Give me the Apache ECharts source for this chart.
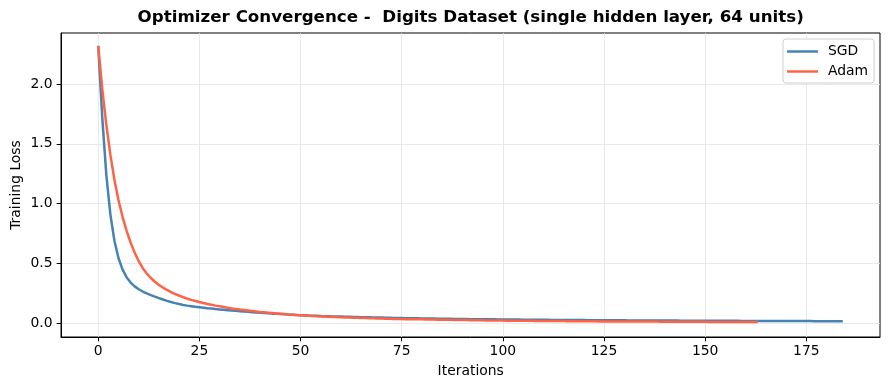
<!DOCTYPE html>
<html>
<head>
<meta charset="utf-8">
<script src="https://cdn.jsdelivr.net/npm/echarts@6/dist/echarts.min.js"></script>
<style>
html,body{margin:0;padding:0;background:#fff;}
#chart{width:889px;height:390px;}
</style>
</head>
<body>
<div id="chart"></div>
<script>
const seriesNames = ['SGD', 'Adam'];
const xTicks = [0, 25, 50, 75, 100, 125, 150, 175];
const yTicks = [0, 0.5, 1.0, 1.5, 2.0];

const sgdLoss = [
  2.32, 1.72, 1.24, 0.91, 0.69, 0.545, 0.450, 0.385, 0.340, 0.308,
  0.284, 0.265, 0.249, 0.235, 0.222, 0.210, 0.198, 0.187, 0.177, 0.168,
  0.160, 0.153, 0.147, 0.142, 0.137, 0.133, 0.129, 0.125, 0.122, 0.118,
  0.115, 0.112, 0.109, 0.106, 0.103, 0.100, 0.097, 0.095, 0.092, 0.090,
  0.087, 0.085, 0.083, 0.080, 0.078, 0.076, 0.074, 0.072, 0.071, 0.069,
  0.067, 0.066, 0.064, 0.063, 0.062, 0.060, 0.059, 0.058, 0.057, 0.056,
  0.055, 0.054, 0.053, 0.052, 0.051, 0.050, 0.050, 0.049, 0.048, 0.047,
  0.047, 0.046, 0.045, 0.044, 0.044, 0.043, 0.042, 0.042, 0.041, 0.041,
  0.040, 0.040, 0.039, 0.039, 0.038, 0.038, 0.037, 0.037, 0.036, 0.036,
  0.035, 0.035, 0.034, 0.034, 0.033, 0.033, 0.033, 0.032, 0.032, 0.031,
  0.031, 0.031, 0.030, 0.030, 0.030, 0.029, 0.029, 0.029, 0.029, 0.028,
  0.028, 0.028, 0.027, 0.027, 0.027, 0.027, 0.026, 0.026, 0.026, 0.026,
  0.026, 0.025, 0.025, 0.025, 0.025, 0.025, 0.024, 0.024, 0.024, 0.024,
  0.024, 0.023, 0.023, 0.023, 0.023, 0.023, 0.023, 0.022, 0.022, 0.022,
  0.022, 0.022, 0.022, 0.022, 0.021, 0.021, 0.021, 0.021, 0.021, 0.021,
  0.021, 0.020, 0.020, 0.020, 0.020, 0.020, 0.020, 0.020, 0.020, 0.019,
  0.019, 0.019, 0.019, 0.019, 0.019, 0.019, 0.019, 0.019, 0.018, 0.018,
  0.018, 0.018, 0.018, 0.018, 0.018, 0.018, 0.018, 0.017, 0.017, 0.017,
  0.017, 0.017, 0.017, 0.017, 0.017
];

const adamLoss = [
  2.32, 1.96, 1.66, 1.41, 1.20, 1.03, 0.890, 0.775, 0.675, 0.590,
  0.520, 0.460, 0.415, 0.378, 0.347, 0.320, 0.298, 0.278, 0.260, 0.244,
  0.230, 0.217, 0.205, 0.195, 0.186, 0.177, 0.169, 0.161, 0.154, 0.147,
  0.141, 0.135, 0.129, 0.124, 0.119, 0.114, 0.110, 0.106, 0.102, 0.098,
  0.094, 0.091, 0.088, 0.085, 0.082, 0.079, 0.076, 0.073, 0.071, 0.068,
  0.066, 0.064, 0.062, 0.060, 0.058, 0.057, 0.055, 0.054, 0.052, 0.051,
  0.049, 0.048, 0.047, 0.046, 0.045, 0.044, 0.043, 0.042, 0.041, 0.040,
  0.039, 0.038, 0.037, 0.036, 0.036, 0.035, 0.034, 0.034, 0.033, 0.032,
  0.032, 0.031, 0.030, 0.030, 0.029, 0.029, 0.028, 0.028, 0.027, 0.027,
  0.026, 0.026, 0.025, 0.025, 0.024, 0.024, 0.023, 0.023, 0.023, 0.022,
  0.022, 0.021, 0.021, 0.021, 0.020, 0.020, 0.020, 0.020, 0.019, 0.019,
  0.019, 0.019, 0.018, 0.018, 0.018, 0.018, 0.017, 0.017, 0.017, 0.017,
  0.016, 0.016, 0.016, 0.016, 0.015, 0.015, 0.015, 0.015, 0.015, 0.015,
  0.015, 0.015, 0.014, 0.014, 0.014, 0.014, 0.014, 0.014, 0.014, 0.013,
  0.013, 0.013, 0.013, 0.013, 0.013, 0.013, 0.012, 0.012, 0.012, 0.012,
  0.012, 0.011, 0.011, 0.011, 0.011, 0.011, 0.011, 0.011, 0.011, 0.011,
  0.011, 0.010, 0.010, 0.010
];

const FONT = 'DejaVu Sans';
const FS = 13.9;
const chart = echarts.init(document.getElementById('chart'), null, {renderer: 'canvas'});

const toPairs = arr => arr.map((v, i) => [i, v]);

const option = {
  backgroundColor: '#fff',
  animation: false,
  grid: {left: 61, right: 9, top: 33, bottom: 53, show: true, borderColor: '#000', borderWidth: 1, backgroundColor: 'transparent'},
  legend: {
    orient: 'vertical',
    left: 783, top: 39,
    padding: [5, 6, 4, 4],
    itemGap: 5,
    itemWidth: 31, itemHeight: 2.5,
    icon: 'rect',
    backgroundColor: '#fff',
    borderColor: '#d0d0d0', borderWidth: 1, borderRadius: 3,
    textStyle: {fontFamily: FONT, fontSize: FS, lineHeight: 15, color: '#000', padding: [0, 0, 0, 5]},
    data: seriesNames
  },
  xAxis: {
    type: 'value', min: -9.2, max: 193.2,
    axisLine: {show: true, onZero: false, lineStyle: {color: '#000', width: 1}},
    axisTick: {show: true, length: 4.3, lineStyle: {color: '#000', width: 1}, customValues: xTicks},
    axisLabel: {fontFamily: FONT, fontSize: FS, color: '#000', margin: 7.5, customValues: xTicks, formatter: v => String(v)},
    splitLine: {show: true, lineStyle: {color: '#e3e3e3', width: 0.8}}
  },
  yAxis: {
    type: 'value', min: -0.1155, max: 2.4275,
    axisLine: {show: true, onZero: false, lineStyle: {color: '#000', width: 1}},
    axisTick: {show: true, length: 4.3, lineStyle: {color: '#000', width: 1}, customValues: yTicks},
    axisLabel: {fontFamily: FONT, fontSize: FS, color: '#000', margin: 8.5, customValues: yTicks, formatter: v => v.toFixed(1)},
    splitLine: {show: true, lineStyle: {color: '#e3e3e3', width: 0.8}}
  },
  series: [
    {name: seriesNames[0], type: 'line', data: toPairs(sgdLoss), showSymbol: false, symbol: 'none',
     lineStyle: {color: '#4682B4', width: 2.5}, itemStyle: {color: '#4682B4'}, z: 3},
    {name: seriesNames[1], type: 'line', data: toPairs(adamLoss), showSymbol: false, symbol: 'none',
     lineStyle: {color: '#FF6347', width: 2.5}, itemStyle: {color: '#FF6347'}, z: 4}
  ],
  graphic: [
    {type: 'text', x: 470.7, y: 18, style: {text: 'Optimizer Convergence -  Digits Dataset (single hidden layer, 64 units)', font: 'bold 16.7px "DejaVu Sans"', fill: '#000', align: 'center', verticalAlign: 'middle'}},
    {type: 'text', x: 470.7, y: 371, style: {text: 'Iterations', font: FS + 'px "DejaVu Sans"', fill: '#000', align: 'center', verticalAlign: 'middle'}},
    {type: 'text', x: 16, y: 185, rotation: Math.PI / 2, style: {text: 'Training Loss', font: FS + 'px "DejaVu Sans"', fill: '#000', align: 'center', verticalAlign: 'middle'}}
  ]
};
chart.setOption(option);
</script>
</body>
</html>
